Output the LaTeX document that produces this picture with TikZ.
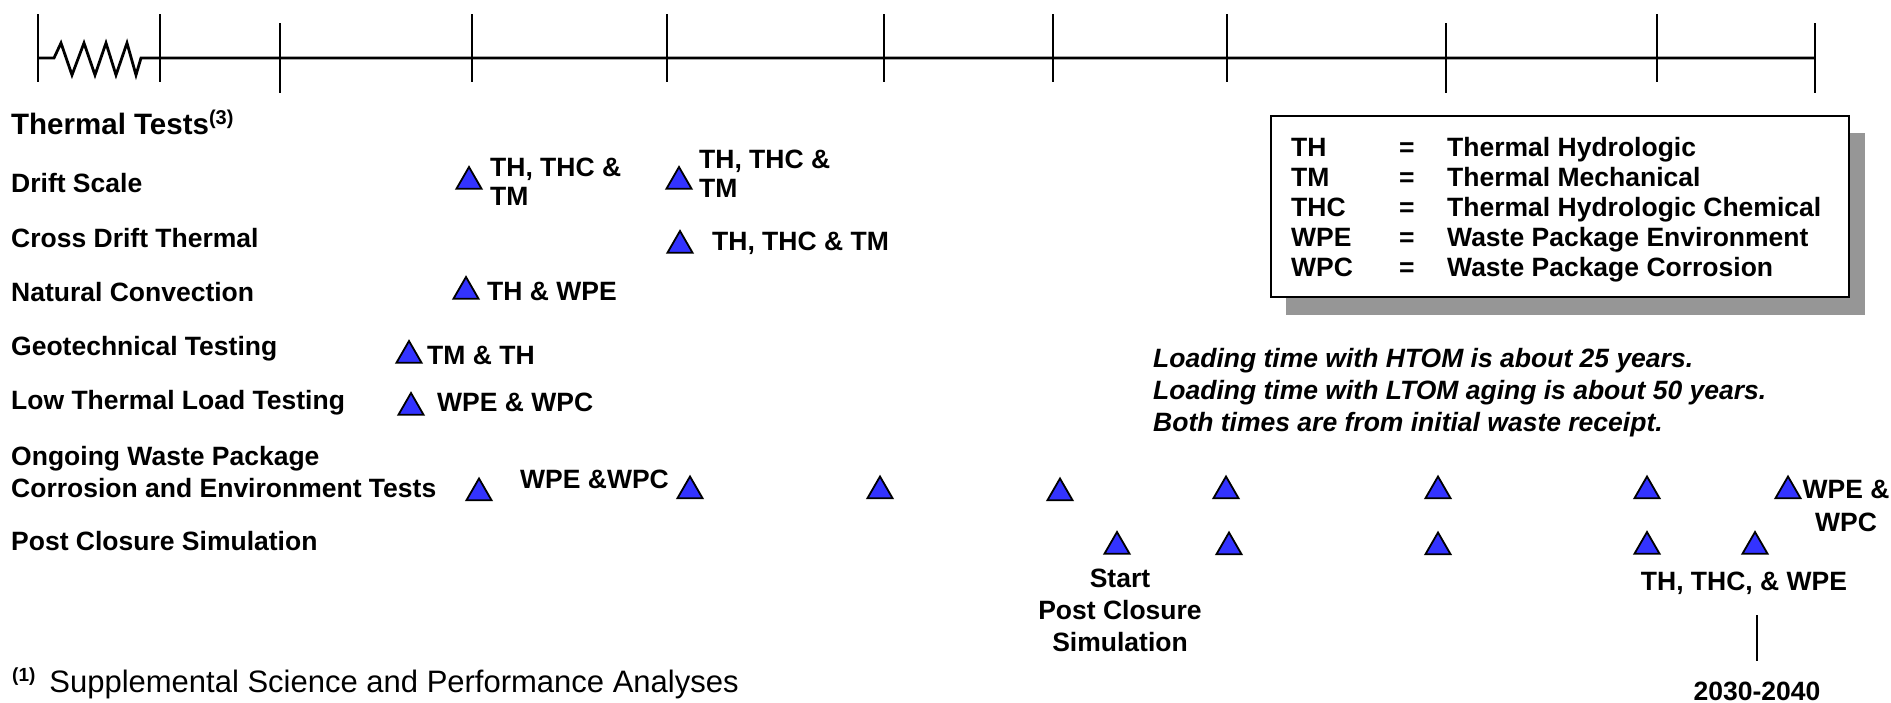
\documentclass[tikz,border=0pt]{standalone}
\usepackage{fontspec}
\setmainfont{Liberation Sans}
\usetikzlibrary{shapes.geometric}
\definecolor{triblue}{RGB}{51,51,255}
\definecolor{shadowgray}{RGB}{150,150,150}
\begin{document}
\begin{tikzpicture}[x=1pt,y=-1pt,
  lbl/.style={anchor=base west, inner sep=0pt, font=\fontsize{26.5}{30}\selectfont\bfseries},
  blk/.style={anchor=north west, inner sep=0pt, align=left, font=\fontsize{26.5}{29}\selectfont\bfseries},
  ctr/.style={anchor=north, inner sep=0pt, align=center, font=\fontsize{26.5}{32}\selectfont\bfseries},
  tri/.style={regular polygon, regular polygon sides=3, draw=black, fill=triblue, line width=1.8pt, minimum size=29pt, inner sep=0pt},
  axisline/.style={line width=2.8pt, line join=miter},
  tickline/.style={line width=2.4pt},
]
\useasboundingbox (0,0) rectangle (1891,702);

% ---- timeline ----
\coordinate (z0) at (38,58);
\coordinate (z1) at (141,58);
\coordinate (axend) at (1815,58);
\draw[axisline] (z0) -- (54,58) -- (61,43) -- (72,75) -- (84,43) -- (95,75) -- (106,43) -- (116,75) -- (127,43) -- (136,75) -- (z1) -- (axend);
\foreach \x in {38,160,472,667,884,1053,1227,1657}
  \draw[tickline] (\x,14) -- (\x,82);
\foreach \x in {280,1446,1815}
  \draw[tickline] (\x,23) -- (\x,93);

% ---- row labels ----
\node[lbl, font=\fontsize{29.5}{34}\selectfont\bfseries] (hdr) at (11,134) {Thermal Tests\raisebox{10pt}{\fontsize{20}{20}\selectfont(3)}};
\node[lbl] (rdrift) at (11,192.5) {Drift Scale};
\node[lbl] (rcross) at (11,247.5) {Cross Drift Thermal};
\node[lbl] (rnat) at (11,301.5) {Natural Convection};
\node[lbl] (rgeo) at (11,355.5) {Geotechnical Testing};
\node[lbl] (rlow) at (11,409.5) {Low Thermal Load Testing};
\node[blk, font=\fontsize{26.5}{32}\selectfont\bfseries] (rong) at (11,446) {Ongoing Waste Package\\Corrosion and Environment Tests};
\node[lbl] (rpost) at (11,550.5) {Post Closure Simulation};

% ---- triangles ----
\node[tri] (d1) at (469,181.5) {};
\node[tri] (d2) at (679,181.5) {};
\node[tri] (c1) at (680,245.5) {};
\node[tri] (n1) at (466,291.5) {};
\node[tri] (g1) at (409,355.5) {};
\node[tri] (l1) at (411,407.5) {};
\node[tri] (o1) at (479,493) {};
\node[tri] (o2) at (690,491) {};
\node[tri] (o3) at (880,491) {};
\node[tri] (o4) at (1060,493) {};
\node[tri] (o5) at (1226,491) {};
\node[tri] (o6) at (1438,491) {};
\node[tri] (o7) at (1647,491) {};
\node[tri] (o8) at (1788,491) {};
\node[tri] (p1) at (1117,546.5) {};
\node[tri] (p2) at (1229,547) {};
\node[tri] (p3) at (1438,547) {};
\node[tri] (p4) at (1647,546.5) {};
\node[tri] (p5) at (1755,546.5) {};

% ---- triangle labels ----
\node[blk] (d1l) at (490,158) {TH, THC \&\\TM};
\node[blk] (d2l) at (699,150) {TH, THC \&\\TM};
\node[lbl] (c1l) at (712,250.5) {TH, THC \& TM};
\node[lbl] (n1l) at (487,300.5) {TH \& WPE};
\node[lbl] (g1l) at (427,364.5) {TM \& TH};
\node[lbl] (l1l) at (437,411.5) {WPE \& WPC};
\node[lbl] (o1l) at (520,488.5) {WPE \&WPC};
\node[ctr, font=\fontsize{26.5}{33}\selectfont\bfseries] (o8l) at (1846,480) {WPE \&\\WPC};
\node[ctr] (p1l) at (1120,569) {Start\\Post Closure\\Simulation};
\node[lbl, anchor=base] (p5l) at (1744,590.5) {TH, THC, \& WPE};
\node[lbl, anchor=base] (yr) at (1757,700) {2030-2040};
\coordinate (yrtop) at (1757,615);
\coordinate (yrbot) at (1757,661);
\draw[line width=2pt] (yrtop) -- (yrbot);

% ---- legend ----
\fill[shadowgray] (1286,133) rectangle (1865,315);
\draw[line width=2pt, fill=white] (1271,116) rectangle (1849,297);
\node[anchor=north west, inner sep=0pt, font=\fontsize{26.5}{30}\selectfont\bfseries] (legend) at (1291,135.5)
{\begin{tabular}{@{}p{108pt}@{}p{48pt}@{}l@{}}
TH & = & Thermal Hydrologic\\
TM & = & Thermal Mechanical\\
THC & = & Thermal Hydrologic Chemical\\
WPE & = & Waste Package Environment\\
WPC & = & Waste Package Corrosion
\end{tabular}};

% ---- note ----
\node[blk, font=\fontsize{26.5}{32}\selectfont\bfseries\itshape] (note) at (1153,348)
{Loading time with HTOM is about 25 years.\\Loading time with LTOM aging is about 50 years.\\Both times are from initial waste receipt.};

% ---- footnote ----
\node[anchor=base west, inner sep=0pt, font=\fontsize{31}{36}\selectfont] (foot) at (12,692)
{\raisebox{11pt}{\fontsize{19}{19}\selectfont\bfseries(1)}\hspace{14pt}Supplemental Science and Performance Analyses};
\end{tikzpicture}
\end{document}
